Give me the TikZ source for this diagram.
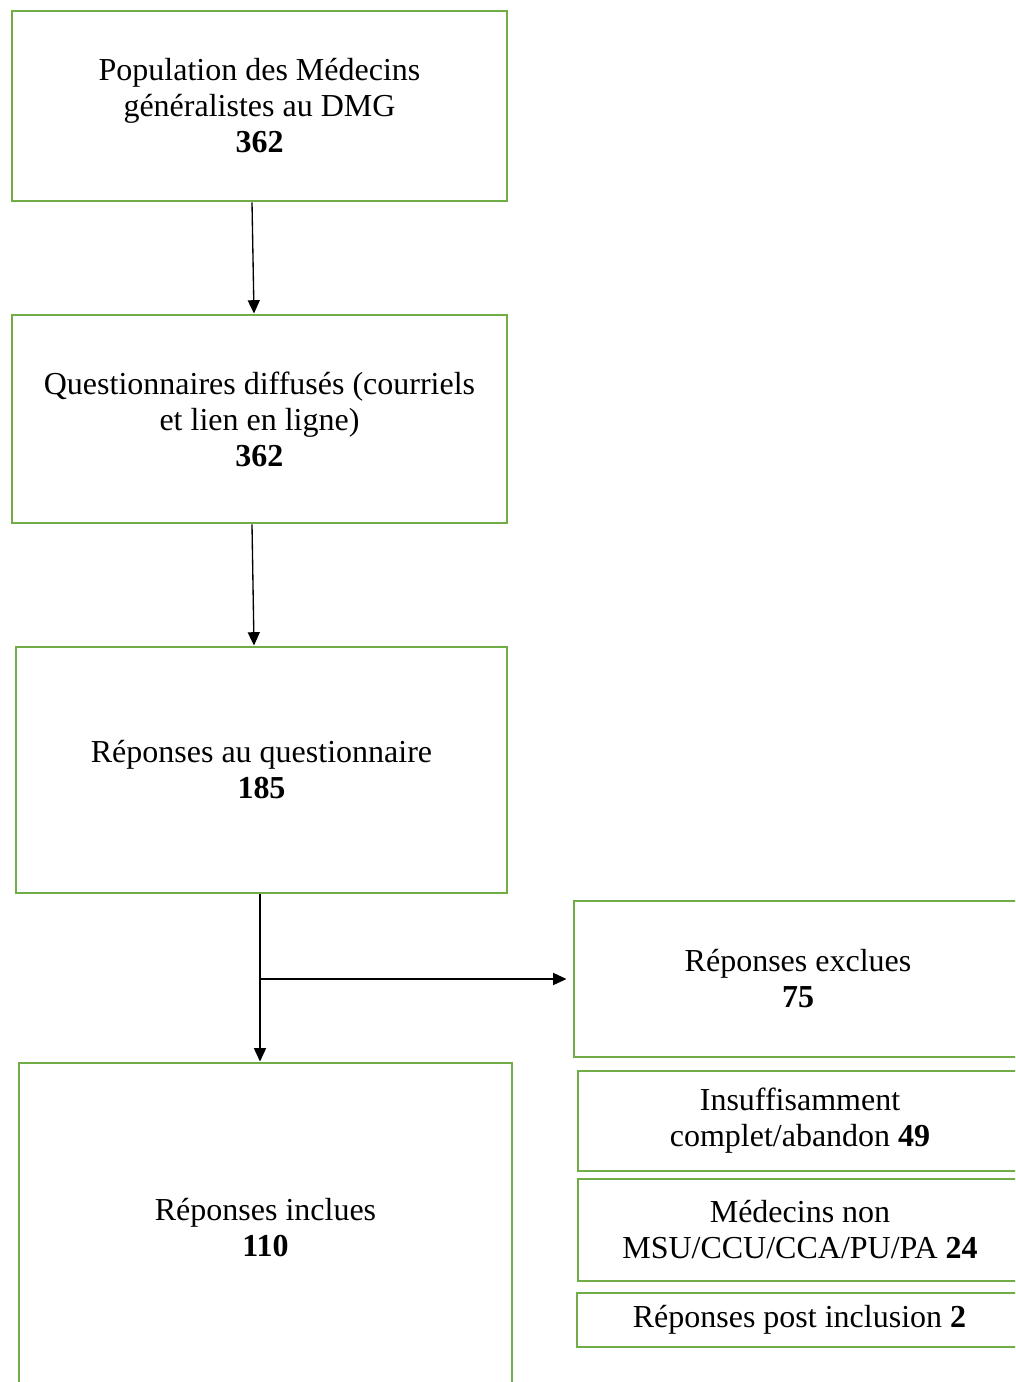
\documentclass[tikz,border=0pt]{standalone}
\usepackage{fontspec}
\setmainfont{Liberation Serif}
\usetikzlibrary{arrows.meta,calc}
\definecolor{boxgreen}{HTML}{70AD47}
\begin{document}
\begin{tikzpicture}[x=0.75pt,y=-0.75pt,
  box/.style={draw=boxgreen,line width=2.2pt,rectangle,inner sep=0pt,align=center,
    font=\fontsize{24}{27}\selectfont},
  arr/.style={line width=1pt,-{Triangle[length=10pt,width=9pt]}}]
\useasboundingbox (0,0) rectangle (1015,1382);
\clip (0,0) rectangle (1015,1382);
\node[box,minimum width=371.25pt,minimum height=142.5pt] (b1) at (259.5,106)
  {Population des Médecins\\généralistes au DMG\\\textbf{362}};
\node[box,minimum width=371.25pt,minimum height=156pt] (b2) at (259.5,419)
  {Questionnaires diffusés (courriels\\et lien en ligne)\\\textbf{362}};
\node[box,minimum width=368.25pt,minimum height=184.5pt] (b3) at (261.5,770)
  {Réponses au questionnaire\\\textbf{185}};
\node[box,minimum width=336pt,minimum height=117pt] (b4) at (798,979)
  {Réponses exclues\\\textbf{75}};
\node[box,minimum width=333pt,minimum height=75pt] (b5) at (800,1121)
  {Insuffisamment\\complet/abandon \textbf{49}};
\node[box,minimum width=333pt,minimum height=76.5pt] (b6) at (800,1230)
  {Médecins non\\MSU/CCU/CCA/PU/PA \textbf{24}};
\node[box,minimum width=333.75pt,minimum height=40.5pt] (b7) at (799.5,1320)
  {Réponses post inclusion \textbf{2}};
\node[box,minimum width=369.75pt,minimum height=247.5pt] (b8) at (265.5,1228)
  {Réponses inclues\\\textbf{110}};
\draw[arr] ($(b1.south)+(-7.5,0)$) -- ($(b2.north)+(-5.5,0)$);
\draw[arr] ($(b2.south)+(-7.5,0)$) -- ($(b3.north)+(-7.5,0)$);
\coordinate (j) at (260,979);
\draw[line width=1pt] (j |- b3.south) -- (j);
\draw[arr] (j) -- (j |- b8.north);
\draw[arr,shorten >=4.5pt] (j) -- (b4.west);
\end{tikzpicture}
\end{document}
